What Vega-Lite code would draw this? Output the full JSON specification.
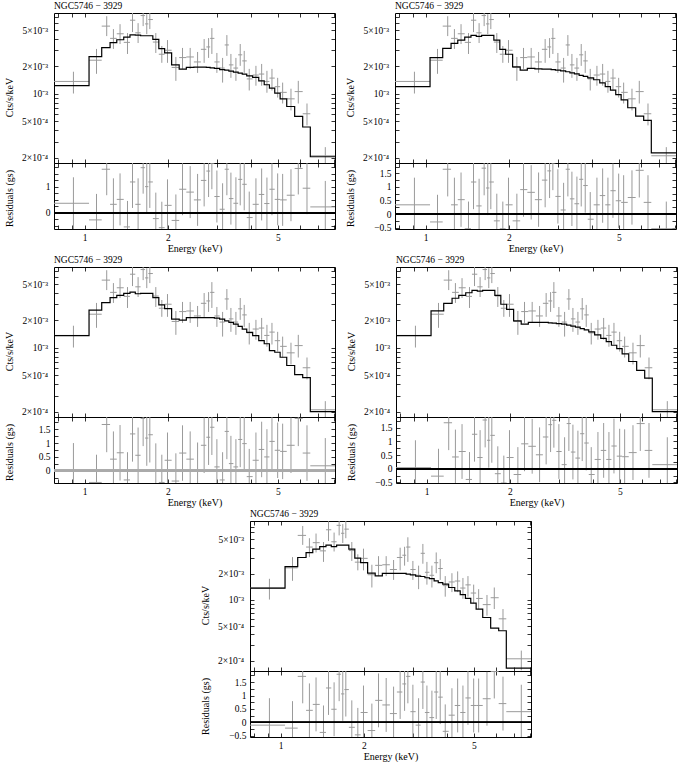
{
"$schema": "https://vega.github.io/schema/vega-lite/v6.json",
"padding": {"left": 4, "top": 0, "right": 4, "bottom": 0},
"background": "white",
"config": {
  "font": "Liberation Serif",
  "view": {"stroke": "black", "strokeWidth": 1},
  "axis": {"domain": false, "grid": false, "tickColor": "black", "tickSize": -4, "tickWidth": 0.8, "labelFont": "Liberation Serif", "labelFontSize": 9.5, "labelColor": "black", "titleFont": "Liberation Serif", "titleFontSize": 10, "titleFontWeight": "normal", "titleColor": "black", "labelPadding": 8},
  "title": {"font": "Liberation Serif", "fontSize": 9.5, "fontWeight": "normal", "anchor": "start", "frame": "group", "offset": 2, "color": "black"}
},
"datasets": {"bins": [
{"i":1,"lo":0.75,"hi":1.0365,"e":0.91,"y":1.37e-3,"ylo":1.01e-3,"yhi":1.75e-3,"m1":1.23e-3,"m2":1.20e-3,"m3":1.36e-3,"m4":1.36e-3,"m5":1.37e-3,"r1":0.36,"r2":0.34,"r3":0.0,"r4":0.04,"r5":-0.1,"rl1":-0.64,"rl2":-0.66,"rl3":-1,"rl4":-0.96,"rl5":-1.1,"rh1":1.36,"rh2":1.34,"rh3":1,"rh4":1.04,"rh5":0.9},
{"i":2,"lo":1.0365,"hi":1.152,"e":1.103,"y":2.34e-3,"ylo":1.66e-3,"yhi":3.11e-3,"m1":2.56e-3,"m2":2.50e-3,"m3":2.59e-3,"m4":2.54e-3,"m5":2.42e-3,"r1":-0.28,"r2":-0.29,"r3":-0.42,"r4":-0.27,"r5":-0.21,"rl1":-1.28,"rl2":-1.29,"rl3":-1.42,"rl4":-1.27,"rl5":-1.21,"rh1":0.72,"rh2":0.71,"rh3":0.58,"rh4":0.73,"rh5":0.79},
{"i":3,"lo":1.152,"hi":1.235,"e":1.201,"y":5.53e-3,"ylo":4.30e-3,"yhi":7.10e-3,"m1":3.21e-3,"m2":3.16e-3,"m3":3.13e-3,"m4":3.08e-3,"m5":3.08e-3,"r1":1.67,"r2":1.65,"r3":1.67,"r4":1.68,"r5":1.71,"rl1":0.67,"rl2":0.65,"rl3":0.67,"rl4":0.68,"rl5":0.71,"rh1":2.67,"rh2":2.65,"rh3":2.67,"rh4":2.68,"rh5":2.71},
{"i":4,"lo":1.235,"hi":1.306,"e":1.27,"y":4.06e-3,"ylo":3.11e-3,"yhi":5.13e-3,"m1":3.64e-3,"m2":3.58e-3,"m3":3.55e-3,"m4":3.50e-3,"m5":3.51e-3,"r1":0.32,"r2":0.34,"r3":0.42,"r4":0.43,"r5":0.45,"rl1":-0.68,"rl2":-0.66,"rl3":-0.58,"rl4":-0.57,"rl5":-0.55,"rh1":1.32,"rh2":1.34,"rh3":1.42,"rh4":1.43,"rh5":1.45},
{"i":5,"lo":1.306,"hi":1.384,"e":1.342,"y":4.56e-3,"ylo":3.52e-3,"yhi":5.81e-3,"m1":3.92e-3,"m2":3.89e-3,"m3":3.77e-3,"m4":3.77e-3,"m5":3.84e-3,"r1":0.51,"r2":0.53,"r3":0.65,"r4":0.63,"r5":0.67,"rl1":-0.49,"rl2":-0.47,"rl3":-0.35,"rl4":-0.37,"rl5":-0.33,"rh1":1.51,"rh2":1.53,"rh3":1.65,"rh4":1.63,"rh5":1.67},
{"i":6,"lo":1.384,"hi":1.458,"e":1.428,"y":3.67e-3,"ylo":2.74e-3,"yhi":4.64e-3,"m1":4.20e-3,"m2":4.20e-3,"m3":3.96e-3,"m4":4.02e-3,"m5":4.11e-3,"r1":-0.55,"r2":-0.54,"r3":-0.33,"r4":-0.39,"r5":-0.37,"rl1":-1.55,"rl2":-1.54,"rl3":-1.33,"rl4":-1.39,"rl5":-1.37,"rh1":0.45,"rh2":0.46,"rh3":0.67,"rh4":0.61,"rh5":0.63},
{"i":7,"lo":1.458,"hi":1.524,"e":1.489,"y":6.42e-3,"ylo":4.76e-3,"yhi":8.04e-3,"m1":4.44e-3,"m2":4.38e-3,"m3":4.09e-3,"m4":4.27e-3,"m5":4.27e-3,"r1":1.18,"r2":1.18,"r3":1.33,"r4":1.26,"r5":1.28,"rl1":0.18,"rl2":0.18,"rl3":0.33,"rl4":0.26,"rl5":0.28,"rh1":2.18,"rh2":2.18,"rh3":2.33,"rh4":2.26,"rh5":2.28},
{"i":8,"lo":1.524,"hi":1.593,"e":1.56,"y":4.67e-3,"ylo":3.61e-3,"yhi":5.96e-3,"m1":4.41e-3,"m2":4.27e-3,"m3":3.92e-3,"m4":4.20e-3,"m5":4.11e-3,"r1":0.32,"r2":0.30,"r3":0.56,"r4":0.41,"r5":0.49,"rl1":-0.68,"rl2":-0.70,"rl3":-0.44,"rl4":-0.59,"rl5":-0.51,"rh1":1.32,"rh2":1.30,"rh3":1.56,"rh4":1.41,"rh5":1.49},
{"i":9,"lo":1.593,"hi":1.653,"e":1.627,"y":7.22e-3,"ylo":5.53e-3,"yhi":9.12e-3,"m1":4.34e-3,"m2":4.38e-3,"m3":3.96e-3,"m4":4.27e-3,"m5":4.27e-3,"r1":1.73,"r2":1.69,"r3":1.89,"r4":1.78,"r5":1.79,"rl1":0.73,"rl2":0.69,"rl3":0.89,"rl4":0.78,"rl5":0.79,"rh1":2.73,"rh2":2.69,"rh3":2.89,"rh4":2.78,"rh5":2.79},
{"i":10,"lo":1.653,"hi":1.699,"e":1.677,"y":5.85e-3,"ylo":4.52e-3,"yhi":7.46e-3,"m1":4.34e-3,"m2":4.38e-3,"m3":3.96e-3,"m4":4.27e-3,"m5":4.27e-3,"r1":1.0,"r2":0.96,"r3":1.18,"r4":1.04,"r5":1.06,"rl1":0,"rl2":-0.04,"rl3":0.18,"rl4":0.04,"rl5":0.06,"rh1":2,"rh2":1.96,"rh3":2.18,"rh4":2.04,"rh5":2.06},
{"i":11,"lo":1.699,"hi":1.764,"e":1.72,"y":6.53e-3,"ylo":5.13e-3,"yhi":8.24e-3,"m1":4.34e-3,"m2":4.38e-3,"m3":3.96e-3,"m4":4.27e-3,"m5":4.27e-3,"r1":1.18,"r2":1.18,"r3":1.30,"r4":1.22,"r5":1.22,"rl1":0.18,"rl2":0.18,"rl3":0.30,"rl4":0.22,"rl5":0.22,"rh1":2.18,"rh2":2.18,"rh3":2.30,"rh4":2.22,"rh5":2.22},
{"i":12,"lo":1.764,"hi":1.854,"e":1.808,"y":3.70e-3,"ylo":2.81e-3,"yhi":4.64e-3,"m1":3.96e-3,"m2":3.89e-3,"m3":3.55e-3,"m4":3.77e-3,"m5":3.84e-3,"r1":-0.23,"r2":-0.25,"r3":-0.01,"r4":-0.18,"r5":-0.18,"rl1":-1.23,"rl2":-1.25,"rl3":-1.01,"rl4":-1.18,"rl5":-1.18,"rh1":0.77,"rh2":0.75,"rh3":0.99,"rh4":0.82,"rh5":0.82},
{"i":13,"lo":1.854,"hi":1.946,"e":1.901,"y":2.72e-3,"ylo":2.19e-3,"yhi":3.35e-3,"m1":3.13e-3,"m2":3.08e-3,"m3":2.96e-3,"m4":3.01e-3,"m5":3.03e-3,"r1":-0.58,"r2":-0.54,"r3":-0.42,"r4":-0.52,"r5":-0.46,"rl1":-1.58,"rl2":-1.54,"rl3":-1.42,"rl4":-1.52,"rl5":-1.46,"rh1":0.42,"rh2":0.46,"rh3":0.58,"rh4":0.48,"rh5":0.54},
{"i":14,"lo":1.946,"hi":2.063,"e":1.993,"y":3.01e-3,"ylo":2.19e-3,"yhi":3.89e-3,"m1":2.81e-3,"m2":2.72e-3,"m3":2.69e-3,"m4":2.65e-3,"m5":2.69e-3,"r1":0.28,"r2":0.34,"r3":0.38,"r4":0.41,"r5":0.37,"rl1":-0.72,"rl2":-0.66,"rl3":-0.62,"rl4":-0.59,"rl5":-0.63,"rh1":1.28,"rh2":1.34,"rh3":1.38,"rh4":1.41,"rh5":1.37},
{"i":15,"lo":2.063,"hi":2.197,"e":2.137,"y":1.95e-3,"ylo":1.39e-3,"yhi":2.54e-3,"m1":2.08e-3,"m2":1.98e-3,"m3":2.07e-3,"m4":1.98e-3,"m5":2.03e-3,"r1":-0.30,"r2":-0.25,"r3":-0.37,"r4":-0.21,"r5":-0.30,"rl1":-1.30,"rl2":-1.25,"rl3":-1.37,"rl4":-1.21,"rl5":-1.30,"rh1":0.70,"rh2":0.75,"rh3":0.63,"rh4":0.79,"rh5":0.70},
{"i":16,"lo":2.197,"hi":2.332,"e":2.259,"y":2.50e-3,"ylo":1.88e-3,"yhi":3.19e-3,"m1":1.87e-3,"m2":1.82e-3,"m3":2.02e-3,"m4":1.82e-3,"m5":1.89e-3,"r1":0.90,"r2":0.90,"r3":0.64,"r4":0.91,"r5":0.82,"rl1":-0.10,"rl2":-0.10,"rl3":-0.36,"rl4":-0.09,"rl5":-0.18,"rh1":1.90,"rh2":1.90,"rh3":1.64,"rh4":1.91,"rh5":1.82},
{"i":17,"lo":2.332,"hi":2.483,"e":2.408,"y":2.54e-3,"ylo":1.88e-3,"yhi":3.19e-3,"m1":1.95e-3,"m2":1.90e-3,"m3":2.15e-3,"m4":1.90e-3,"m5":2.02e-3,"r1":0.79,"r2":0.80,"r3":0.42,"r4":0.82,"r5":0.65,"rl1":-0.21,"rl2":-0.20,"rl3":-0.58,"rl4":-0.18,"rl5":-0.35,"rh1":1.79,"rh2":1.80,"rh3":1.42,"rh4":1.82,"rh5":1.65},
{"i":18,"lo":2.483,"hi":2.633,"e":2.561,"y":2.24e-3,"ylo":1.70e-3,"yhi":2.88e-3,"m1":1.97e-3,"m2":1.88e-3,"m3":2.15e-3,"m4":1.90e-3,"m5":2.02e-3,"r1":0.49,"r2":0.53,"r3":0.02,"r4":0.51,"r5":0.33,"rl1":-0.51,"rl2":-0.47,"rl3":-0.98,"rl4":-0.49,"rl5":-0.67,"rh1":1.49,"rh2":1.53,"rh3":1.02,"rh4":1.51,"rh5":1.33},
{"i":19,"lo":2.633,"hi":2.755,"e":2.705,"y":3.08e-3,"ylo":2.19e-3,"yhi":3.99e-3,"m1":1.97e-3,"m2":1.87e-3,"m3":2.15e-3,"m4":1.90e-3,"m5":2.02e-3,"r1":1.24,"r2":1.25,"r3":0.92,"r4":1.16,"r5":1.13,"rl1":0.24,"rl2":0.25,"rl3":-0.08,"rl4":0.16,"rl5":0.13,"rh1":2.24,"rh2":2.25,"rh3":1.92,"rh4":2.16,"rh5":2.13},
{"i":20,"lo":2.755,"hi":2.844,"e":2.807,"y":3.27e-3,"ylo":2.48e-3,"yhi":4.09e-3,"m1":1.95e-3,"m2":1.87e-3,"m3":2.15e-3,"m4":1.88e-3,"m5":2.02e-3,"r1":1.60,"r2":1.59,"r3":1.21,"r4":1.61,"r5":1.43,"rl1":0.60,"rl2":0.59,"rl3":0.21,"rl4":0.61,"rl5":0.43,"rh1":2.60,"rh2":2.59,"rh3":2.21,"rh4":2.61,"rh5":2.43},
{"i":21,"lo":2.844,"hi":2.946,"e":2.885,"y":4.06e-3,"ylo":2.74e-3,"yhi":5.26e-3,"m1":1.93e-3,"m2":1.85e-3,"m3":2.15e-3,"m4":1.87e-3,"m5":1.98e-3,"r1":1.90,"r2":1.88,"r3":1.57,"r4":1.77,"r5":1.71,"rl1":0.90,"rl2":0.88,"rl3":0.57,"rl4":0.77,"rl5":0.71,"rh1":2.90,"rh2":2.88,"rh3":2.57,"rh4":2.77,"rh5":2.71},
{"i":22,"lo":2.946,"hi":3.078,"e":3.008,"y":2.24e-3,"ylo":1.70e-3,"yhi":2.81e-3,"m1":1.90e-3,"m2":1.82e-3,"m3":2.12e-3,"m4":1.85e-3,"m5":1.94e-3,"r1":0.62,"r2":0.65,"r3":0.14,"r4":0.63,"r5":0.40,"rl1":-0.38,"rl2":-0.35,"rl3":-0.86,"rl4":-0.37,"rl5":-0.60,"rh1":1.62,"rh2":1.65,"rh3":1.14,"rh4":1.63,"rh5":1.40},
{"i":23,"lo":3.078,"hi":3.21,"e":3.155,"y":1.92e-3,"ylo":1.33e-3,"yhi":2.48e-3,"m1":1.85e-3,"m2":1.79e-3,"m3":2.07e-3,"m4":1.82e-3,"m5":1.88e-3,"r1":0.13,"r2":0.15,"r3":-0.33,"r4":0.15,"r5":-0.10,"rl1":-0.87,"rl2":-0.85,"rl3":-1.33,"rl4":-0.85,"rl5":-1.10,"rh1":1.13,"rh2":1.15,"rh3":0.67,"rh4":1.15,"rh5":0.90},
{"i":24,"lo":3.21,"hi":3.325,"e":3.269,"y":3.44e-3,"ylo":2.61e-3,"yhi":4.41e-3,"m1":1.82e-3,"m2":1.75e-3,"m3":1.98e-3,"m4":1.78e-3,"m5":1.86e-3,"r1":1.67,"r2":1.65,"r3":1.42,"r4":1.65,"r5":1.50,"rl1":0.67,"rl2":0.65,"rl3":0.42,"rl4":0.65,"rl5":0.50,"rh1":2.67,"rh2":2.65,"rh3":2.42,"rh4":2.65,"rh5":2.50},
{"i":25,"lo":3.325,"hi":3.452,"e":3.381,"y":2.08e-3,"ylo":1.50e-3,"yhi":2.74e-3,"m1":1.78e-3,"m2":1.70e-3,"m3":1.90e-3,"m4":1.73e-3,"m5":1.80e-3,"r1":0.54,"r2":0.56,"r3":0.26,"r4":0.61,"r5":0.37,"rl1":-0.46,"rl2":-0.44,"rl3":-0.74,"rl4":-0.39,"rl5":-0.63,"rh1":1.54,"rh2":1.56,"rh3":1.26,"rh4":1.61,"rh5":1.37},
{"i":26,"lo":3.452,"hi":3.591,"e":3.525,"y":1.92e-3,"ylo":1.39e-3,"yhi":2.48e-3,"m1":1.73e-3,"m2":1.66e-3,"m3":1.82e-3,"m4":1.69e-3,"m5":1.76e-3,"r1":0.36,"r2":0.38,"r3":0.14,"r4":0.39,"r5":0.18,"rl1":-0.64,"rl2":-0.62,"rl3":-0.86,"rl4":-0.61,"rl5":-0.82,"rh1":1.36,"rh2":1.38,"rh3":1.14,"rh4":1.39,"rh5":1.18},
{"i":27,"lo":3.591,"hi":3.716,"e":3.654,"y":2.68e-3,"ylo":2.03e-3,"yhi":3.52e-3,"m1":1.69e-3,"m2":1.60e-3,"m3":1.72e-3,"m4":1.63e-3,"m5":1.66e-3,"r1":1.28,"r2":1.28,"r3":1.13,"r4":1.28,"r5":1.13,"rl1":0.28,"rl2":0.28,"rl3":0.13,"rl4":0.28,"rl5":0.13,"rh1":2.28,"rh2":2.28,"rh3":2.13,"rh4":2.28,"rh5":2.13},
{"i":28,"lo":3.716,"hi":3.858,"e":3.778,"y":2.30e-3,"ylo":1.70e-3,"yhi":2.96e-3,"m1":1.65e-3,"m2":1.56e-3,"m3":1.61e-3,"m4":1.58e-3,"m5":1.58e-3,"r1":1.09,"r2":1.05,"r3":0.98,"r4":0.94,"r5":0.94,"rl1":0.09,"rl2":0.05,"rl3":-0.02,"rl4":-0.06,"rl5":-0.06,"rh1":2.09,"rh2":2.05,"rh3":1.98,"rh4":1.94,"rh5":1.94},
{"i":29,"lo":3.858,"hi":4.053,"e":3.939,"y":1.46e-3,"ylo":1.09e-3,"yhi":1.88e-3,"m1":1.58e-3,"m2":1.50e-3,"m3":1.48e-3,"m4":1.50e-3,"m5":1.52e-3,"r1":-0.19,"r2":-0.19,"r3":-0.21,"r4":-0.21,"r5":-0.33,"rl1":-1.19,"rl2":-1.19,"rl3":-1.21,"rl4":-1.21,"rl5":-1.33,"rh1":0.81,"rh2":0.81,"rh3":0.79,"rh4":0.79,"rh5":0.67},
{"i":30,"lo":4.053,"hi":4.264,"e":4.165,"y":1.61e-3,"ylo":1.23e-3,"yhi":2.03e-3,"m1":1.52e-3,"m2":1.43e-3,"m3":1.36e-3,"m4":1.39e-3,"m5":1.39e-3,"r1":0.32,"r2":0.34,"r3":0.38,"r4":0.34,"r5":0.27,"rl1":-0.68,"rl2":-0.66,"rl3":-0.62,"rl4":-0.66,"rl5":-0.73,"rh1":1.32,"rh2":1.34,"rh3":1.38,"rh4":1.34,"rh5":1.27},
{"i":31,"lo":4.264,"hi":4.463,"e":4.368,"y":1.65e-3,"ylo":1.23e-3,"yhi":2.13e-3,"m1":1.39e-3,"m2":1.32e-3,"m3":1.20e-3,"m4":1.27e-3,"m5":1.27e-3,"r1":0.70,"r2":0.68,"r3":0.77,"r4":0.67,"r5":0.63,"rl1":-0.30,"rl2":-0.32,"rl3":-0.23,"rl4":-0.33,"rl5":-0.37,"rh1":1.70,"rh2":1.68,"rh3":1.77,"rh4":1.67,"rh5":1.63},
{"i":32,"lo":4.463,"hi":4.661,"e":4.565,"y":1.37e-3,"ylo":1.03e-3,"yhi":1.79e-3,"m1":1.26e-3,"m2":1.20e-3,"m3":1.11e-3,"m4":1.17e-3,"m5":1.15e-3,"r1":0.35,"r2":0.34,"r3":0.50,"r4":0.34,"r5":0.37,"rl1":-0.65,"rl2":-0.66,"rl3":-0.50,"rl4":-0.66,"rl5":-0.63,"rh1":1.35,"rh2":1.34,"rh3":1.50,"rh4":1.34,"rh5":1.37},
{"i":33,"lo":4.661,"hi":4.872,"e":4.76,"y":1.49e-3,"ylo":1.09e-3,"yhi":1.88e-3,"m1":1.16e-3,"m2":1.10e-3,"m3":9.35e-4,"m4":1.07e-3,"m5":1.04e-3,"r1":0.90,"r2":0.86,"r3":1.06,"r4":0.83,"r5":0.91,"rl1":-0.10,"rl2":-0.14,"rl3":0.06,"rl4":-0.17,"rl5":-0.09,"rh1":1.90,"rh2":1.86,"rh3":2.06,"rh4":1.83,"rh5":1.91},
{"i":34,"lo":4.872,"hi":5.096,"e":4.992,"y":1.20e-3,"ylo":9.12e-4,"yhi":1.50e-3,"m1":1.02e-3,"m2":9.83e-4,"m3":8.96e-4,"m4":9.83e-4,"m5":9.18e-4,"r1":0.51,"r2":0.49,"r3":0.74,"r4":0.46,"r5":0.63,"rl1":-0.49,"rl2":-0.51,"rl3":-0.26,"rl4":-0.54,"rl5":-0.37,"rh1":1.51,"rh2":1.49,"rh3":1.74,"rh4":1.46,"rh5":1.63},
{"i":35,"lo":5.096,"hi":5.384,"e":5.204,"y":1.04e-3,"ylo":7.85e-4,"yhi":1.33e-3,"m1":8.82e-4,"m2":8.61e-4,"m3":7.90e-4,"m4":8.61e-4,"m5":7.83e-4,"r1":0.49,"r2":0.43,"r3":0.70,"r4":0.44,"r5":0.63,"rl1":-0.51,"rl2":-0.57,"rl3":-0.30,"rl4":-0.56,"rl5":-0.37,"rh1":1.49,"rh2":1.43,"rh3":1.70,"rh4":1.44,"rh5":1.63},
{"i":36,"lo":5.384,"hi":5.752,"e":5.578,"y":8.83e-4,"ylo":6.59e-4,"yhi":1.14e-3,"m1":7.28e-4,"m2":7.05e-4,"m3":6.42e-4,"m4":7.10e-4,"m5":6.28e-4,"r1":0.67,"r2":0.61,"r3":0.92,"r4":0.59,"r5":0.88,"rl1":-0.33,"rl2":-0.39,"rl3":-0.08,"rl4":-0.41,"rl5":-0.12,"rh1":1.67,"rh2":1.61,"rh3":1.92,"rh4":1.59,"rh5":1.88},
{"i":37,"lo":5.752,"hi":6.15,"e":5.928,"y":1.06e-3,"ylo":7.85e-4,"yhi":1.39e-3,"m1":5.67e-4,"m2":5.71e-4,"m3":5.09e-4,"m4":5.67e-4,"m5":4.74e-4,"r1":1.70,"r2":1.61,"r3":1.89,"r4":1.65,"r5":1.89,"rl1":0.70,"rl2":0.61,"rl3":0.89,"rl4":0.65,"rl5":0.89,"rh1":2.70,"rh2":2.61,"rh3":2.89,"rh4":2.65,"rh5":2.89},
{"i":38,"lo":6.15,"hi":6.553,"e":6.374,"y":6.06e-4,"ylo":4.52e-4,"yhi":7.85e-4,"m1":4.34e-4,"m2":5.13e-4,"m3":4.72e-4,"m4":4.67e-4,"m5":4.42e-4,"r1":0.94,"r2":0.43,"r3":0.64,"r4":0.67,"r5":0.70,"rl1":-0.06,"rl2":-0.57,"rl3":-0.36,"rl4":-0.33,"rl5":-0.30,"rh1":1.94,"rh2":1.43,"rh3":1.64,"rh4":1.67,"rh5":1.70},
{"i":39,"lo":6.553,"hi":8.3,"e":7.425,"y":2.10e-4,"ylo":1.55e-4,"yhi":2.61e-4,"m1":2.05e-4,"m2":2.26e-4,"m3":2.0e-4,"m4":2.0e-4,"m5":1.64e-4,"r1":0.22,"r2":-0.54,"r3":0.18,"r4":0.15,"r5":0.40,"rl1":-0.78,"rl2":-1.54,"rl3":-0.82,"rl4":-0.85,"rl5":-0.60,"rh1":1.22,"rh2":0.46,"rh3":1.18,"rh4":1.15,"rh5":1.40}
]},
"spacing": 0,
"vconcat": [
  {"spacing": 9, "hconcat": [
   {"spacing": 0, "bounds": "flush", "vconcat": [
    {"title": {"text": "NGC5746 − 3929"}, "width": 281, "height": 150, "data": {"name": "bins"},
     "layer": [
      {"mark": {"type": "rule", "color": "#9a9a9a", "clip": true},
       "encoding": {
        "x": {"field": "lo", "type": "quantitative", "scale": {"type": "log", "domain": [0.774, 8.05], "nice": false}, "axis": {"orient": "bottom", "values": [0.8,0.9,1,2,3,4,5,6,7,8], "labels": false, "title": null}},
        "x2": {"field": "hi"},
        "y": {"field": "y", "type": "quantitative", "scale": {"type": "log", "domain": [0.000175, 0.0077], "nice": false}, "axis": {"orient": "left", "values": [0.0002,0.0003,0.0004,0.0005,0.0006,0.0007,0.0008,0.0009,0.001,0.002,0.003,0.004,0.005,0.006,0.007], "labelExpr": "datum.value === 0.005 ? '5×10⁻³' : datum.value === 0.002 ? '2×10⁻³' : datum.value === 0.001 ? '10⁻³' : datum.value === 0.0005 ? '5×10⁻⁴' : datum.value === 0.0002 ? '2×10⁻⁴' : ''", "labelPadding": 10.5, "title": "Cts/s/keV", "titleX": -39.5, "titleY": 84, "titleAngle": -90, "titleAlign": "center", "titleBaseline": "bottom"}}
       }},
      {"mark": {"type": "rule", "color": "#9a9a9a", "clip": true},
       "encoding": {
        "x": {"field": "e", "type": "quantitative", "axis": {"orient": "top", "values": [0.8,0.9,1,2,3,4,5,6,7,8], "labels": false, "title": null}},
        "y": {"field": "ylo", "type": "quantitative", "axis": {"orient": "right", "values": [0.0002,0.0003,0.0004,0.0005,0.0006,0.0007,0.0008,0.0009,0.001,0.002,0.003,0.004,0.005,0.006,0.007], "labels": false, "title": null}},
        "y2": {"field": "yhi"}
       }},
      {"transform": [{"fold": ["lo", "hi"], "as": ["k", "xe"]}],
       "mark": {"type": "line", "color": "black", "strokeWidth": 1.2, "clip": true},
       "encoding": {
        "x": {"field": "xe", "type": "quantitative", "axis": null},
        "y": {"field": "m1", "type": "quantitative", "axis": null},
        "order": [{"field": "i", "type": "quantitative"}, {"field": "k", "type": "ordinal", "sort": "descending"}]
       }}
     ],
     "resolve": {"axis": {"x": "independent", "y": "independent"}}},
    {"width": 281, "height": 66, "data": {"name": "bins"},
     "layer": [
      {"mark": {"type": "rule", "color": "#9a9a9a", "clip": true},
       "encoding": {
        "x": {"field": "lo", "type": "quantitative", "scale": {"type": "log", "domain": [0.774, 8.05], "nice": false}, "axis": {"orient": "bottom", "values": [0.8,0.9,1,2,3,4,5,6,7,8], "labelExpr": "datum.value === 1 || datum.value === 2 || datum.value === 5 ? '' + datum.value : ''", "labelPadding": 7.5, "title": "Energy (keV)", "titlePadding": 1}},
        "x2": {"field": "hi"},
        "y": {"field": "r1", "type": "quantitative", "scale": {"domain": [-0.63, 1.91], "nice": false, "zero": false}, "axis": {"orient": "left", "values": [-0.5,-0.25,0,0.25,0.5,0.75,1,1.25,1.5,1.75], "labelExpr": "datum.value === 0 || datum.value === 1 ? '' + datum.value : ''", "labelPadding": 8, "title": "Residuals (gs)", "titleX": -39.5, "titleY": 35, "titleAngle": -90, "titleAlign": "center", "titleBaseline": "bottom"}}
       }},
      {"mark": {"type": "rule", "color": "#9a9a9a", "clip": true},
       "encoding": {
        "x": {"field": "e", "type": "quantitative", "axis": {"orient": "top", "values": [0.8,0.9,1,2,3,4,5,6,7,8], "labels": false, "title": null}},
        "y": {"field": "rl1", "type": "quantitative", "axis": {"orient": "right", "values": [-0.5,-0.25,0,0.25,0.5,0.75,1,1.25,1.5,1.75], "labels": false, "title": null}},
        "y2": {"field": "rh1"}
       }},
      {"mark": {"type": "rule", "color": "black", "strokeWidth": 0.8},
       "encoding": {"y": {"datum": 0, "type": "quantitative", "axis": null}}}
     ],
     "resolve": {"axis": {"x": "independent", "y": "independent"}}}
   ]},
   {"spacing": 0, "bounds": "flush", "vconcat": [
    {"title": {"text": "NGC5746 − 3929"}, "width": 281, "height": 150, "data": {"name": "bins"},
     "layer": [
      {"mark": {"type": "rule", "color": "#9a9a9a", "clip": true},
       "encoding": {
        "x": {"field": "lo", "type": "quantitative", "scale": {"type": "log", "domain": [0.774, 8.05], "nice": false}, "axis": {"orient": "bottom", "values": [0.8,0.9,1,2,3,4,5,6,7,8], "labels": false, "title": null}},
        "x2": {"field": "hi"},
        "y": {"field": "y", "type": "quantitative", "scale": {"type": "log", "domain": [0.000175, 0.0077], "nice": false}, "axis": {"orient": "left", "values": [0.0002,0.0003,0.0004,0.0005,0.0006,0.0007,0.0008,0.0009,0.001,0.002,0.003,0.004,0.005,0.006,0.007], "labelExpr": "datum.value === 0.005 ? '5×10⁻³' : datum.value === 0.002 ? '2×10⁻³' : datum.value === 0.001 ? '10⁻³' : datum.value === 0.0005 ? '5×10⁻⁴' : datum.value === 0.0002 ? '2×10⁻⁴' : ''", "labelPadding": 10.5, "title": "Cts/s/keV", "titleX": -39.5, "titleY": 84, "titleAngle": -90, "titleAlign": "center", "titleBaseline": "bottom"}}
       }},
      {"mark": {"type": "rule", "color": "#9a9a9a", "clip": true},
       "encoding": {
        "x": {"field": "e", "type": "quantitative", "axis": {"orient": "top", "values": [0.8,0.9,1,2,3,4,5,6,7,8], "labels": false, "title": null}},
        "y": {"field": "ylo", "type": "quantitative", "axis": {"orient": "right", "values": [0.0002,0.0003,0.0004,0.0005,0.0006,0.0007,0.0008,0.0009,0.001,0.002,0.003,0.004,0.005,0.006,0.007], "labels": false, "title": null}},
        "y2": {"field": "yhi"}
       }},
      {"transform": [{"fold": ["lo", "hi"], "as": ["k", "xe"]}],
       "mark": {"type": "line", "color": "black", "strokeWidth": 1.2, "clip": true},
       "encoding": {
        "x": {"field": "xe", "type": "quantitative", "axis": null},
        "y": {"field": "m2", "type": "quantitative", "axis": null},
        "order": [{"field": "i", "type": "quantitative"}, {"field": "k", "type": "ordinal", "sort": "descending"}]
       }}
     ],
     "resolve": {"axis": {"x": "independent", "y": "independent"}}},
    {"width": 281, "height": 66, "data": {"name": "bins"},
     "layer": [
      {"mark": {"type": "rule", "color": "#9a9a9a", "clip": true},
       "encoding": {
        "x": {"field": "lo", "type": "quantitative", "scale": {"type": "log", "domain": [0.774, 8.05], "nice": false}, "axis": {"orient": "bottom", "values": [0.8,0.9,1,2,3,4,5,6,7,8], "labelExpr": "datum.value === 1 || datum.value === 2 || datum.value === 5 ? '' + datum.value : ''", "labelPadding": 7.5, "title": "Energy (keV)", "titlePadding": 1}},
        "x2": {"field": "hi"},
        "y": {"field": "r2", "type": "quantitative", "scale": {"domain": [-0.55, 1.88], "nice": false, "zero": false}, "axis": {"orient": "left", "values": [-0.5,-0.25,0,0.25,0.5,0.75,1,1.25,1.5,1.75], "labelExpr": "datum.value === -0.5 ? '−0.5' : (datum.value * 2) % 1 === 0 ? '' + datum.value : ''", "labelPadding": 8, "title": "Residuals (gs)", "titleX": -39.5, "titleY": 35, "titleAngle": -90, "titleAlign": "center", "titleBaseline": "bottom"}}
       }},
      {"mark": {"type": "rule", "color": "#9a9a9a", "clip": true},
       "encoding": {
        "x": {"field": "e", "type": "quantitative", "axis": {"orient": "top", "values": [0.8,0.9,1,2,3,4,5,6,7,8], "labels": false, "title": null}},
        "y": {"field": "rl2", "type": "quantitative", "axis": {"orient": "right", "values": [-0.5,-0.25,0,0.25,0.5,0.75,1,1.25,1.5,1.75], "labels": false, "title": null}},
        "y2": {"field": "rh2"}
       }},
      {"mark": {"type": "rule", "color": "black", "strokeWidth": 0.8},
       "encoding": {"y": {"datum": 0, "type": "quantitative", "axis": null}}}
     ],
     "resolve": {"axis": {"x": "independent", "y": "independent"}}}
   ]}
  ]},
  {"spacing": 9, "hconcat": [
   {"spacing": 0, "bounds": "flush", "vconcat": [
    {"title": {"text": "NGC5746 − 3929"}, "width": 281, "height": 150, "data": {"name": "bins"},
     "layer": [
      {"mark": {"type": "rule", "color": "#9a9a9a", "clip": true},
       "encoding": {
        "x": {"field": "lo", "type": "quantitative", "scale": {"type": "log", "domain": [0.774, 8.05], "nice": false}, "axis": {"orient": "bottom", "values": [0.8,0.9,1,2,3,4,5,6,7,8], "labels": false, "title": null}},
        "x2": {"field": "hi"},
        "y": {"field": "y", "type": "quantitative", "scale": {"type": "log", "domain": [0.000175, 0.0077], "nice": false}, "axis": {"orient": "left", "values": [0.0002,0.0003,0.0004,0.0005,0.0006,0.0007,0.0008,0.0009,0.001,0.002,0.003,0.004,0.005,0.006,0.007], "labelExpr": "datum.value === 0.005 ? '5×10⁻³' : datum.value === 0.002 ? '2×10⁻³' : datum.value === 0.001 ? '10⁻³' : datum.value === 0.0005 ? '5×10⁻⁴' : datum.value === 0.0002 ? '2×10⁻⁴' : ''", "labelPadding": 10.5, "title": "Cts/s/keV", "titleX": -39.5, "titleY": 84, "titleAngle": -90, "titleAlign": "center", "titleBaseline": "bottom"}}
       }},
      {"mark": {"type": "rule", "color": "#9a9a9a", "clip": true},
       "encoding": {
        "x": {"field": "e", "type": "quantitative", "axis": {"orient": "top", "values": [0.8,0.9,1,2,3,4,5,6,7,8], "labels": false, "title": null}},
        "y": {"field": "ylo", "type": "quantitative", "axis": {"orient": "right", "values": [0.0002,0.0003,0.0004,0.0005,0.0006,0.0007,0.0008,0.0009,0.001,0.002,0.003,0.004,0.005,0.006,0.007], "labels": false, "title": null}},
        "y2": {"field": "yhi"}
       }},
      {"transform": [{"fold": ["lo", "hi"], "as": ["k", "xe"]}],
       "mark": {"type": "line", "color": "black", "strokeWidth": 1.2, "clip": true},
       "encoding": {
        "x": {"field": "xe", "type": "quantitative", "axis": null},
        "y": {"field": "m3", "type": "quantitative", "axis": null},
        "order": [{"field": "i", "type": "quantitative"}, {"field": "k", "type": "ordinal", "sort": "descending"}]
       }}
     ],
     "resolve": {"axis": {"x": "independent", "y": "independent"}}},
    {"width": 281, "height": 66, "data": {"name": "bins"},
     "layer": [
      {"mark": {"type": "rule", "color": "#9a9a9a", "clip": true},
       "encoding": {
        "x": {"field": "lo", "type": "quantitative", "scale": {"type": "log", "domain": [0.774, 8.05], "nice": false}, "axis": {"orient": "bottom", "values": [0.8,0.9,1,2,3,4,5,6,7,8], "labelExpr": "datum.value === 1 || datum.value === 2 || datum.value === 5 ? '' + datum.value : ''", "labelPadding": 7.5, "title": "Energy (keV)", "titlePadding": 1}},
        "x2": {"field": "hi"},
        "y": {"field": "r3", "type": "quantitative", "scale": {"domain": [-0.44, 1.94], "nice": false, "zero": false}, "axis": {"orient": "left", "values": [-0.25,0,0.25,0.5,0.75,1,1.25,1.5,1.75], "labelExpr": "(datum.value * 2) % 1 === 0 ? '' + datum.value : ''", "labelPadding": 8, "title": "Residuals (gs)", "titleX": -39.5, "titleY": 35, "titleAngle": -90, "titleAlign": "center", "titleBaseline": "bottom"}}
       }},
      {"mark": {"type": "rule", "color": "#9a9a9a", "clip": true},
       "encoding": {
        "x": {"field": "e", "type": "quantitative", "axis": {"orient": "top", "values": [0.8,0.9,1,2,3,4,5,6,7,8], "labels": false, "title": null}},
        "y": {"field": "rl3", "type": "quantitative", "axis": {"orient": "right", "values": [-0.25,0,0.25,0.5,0.75,1,1.25,1.5,1.75], "labels": false, "title": null}},
        "y2": {"field": "rh3"}
       }},
      {"mark": {"type": "rule", "color": "#aaaaaa", "strokeWidth": 2},
       "encoding": {"y": {"datum": 0, "type": "quantitative", "axis": null}}}
     ],
     "resolve": {"axis": {"x": "independent", "y": "independent"}}}
   ]},
   {"spacing": 0, "bounds": "flush", "vconcat": [
    {"title": {"text": "NGC5746 − 3929"}, "width": 281, "height": 150, "data": {"name": "bins"},
     "layer": [
      {"mark": {"type": "rule", "color": "#9a9a9a", "clip": true},
       "encoding": {
        "x": {"field": "lo", "type": "quantitative", "scale": {"type": "log", "domain": [0.774, 8.05], "nice": false}, "axis": {"orient": "bottom", "values": [0.8,0.9,1,2,3,4,5,6,7,8], "labels": false, "title": null}},
        "x2": {"field": "hi"},
        "y": {"field": "y", "type": "quantitative", "scale": {"type": "log", "domain": [0.000175, 0.0077], "nice": false}, "axis": {"orient": "left", "values": [0.0002,0.0003,0.0004,0.0005,0.0006,0.0007,0.0008,0.0009,0.001,0.002,0.003,0.004,0.005,0.006,0.007], "labelExpr": "datum.value === 0.005 ? '5×10⁻³' : datum.value === 0.002 ? '2×10⁻³' : datum.value === 0.001 ? '10⁻³' : datum.value === 0.0005 ? '5×10⁻⁴' : datum.value === 0.0002 ? '2×10⁻⁴' : ''", "labelPadding": 10.5, "title": "Cts/s/keV", "titleX": -39.5, "titleY": 84, "titleAngle": -90, "titleAlign": "center", "titleBaseline": "bottom"}}
       }},
      {"mark": {"type": "rule", "color": "#9a9a9a", "clip": true},
       "encoding": {
        "x": {"field": "e", "type": "quantitative", "axis": {"orient": "top", "values": [0.8,0.9,1,2,3,4,5,6,7,8], "labels": false, "title": null}},
        "y": {"field": "ylo", "type": "quantitative", "axis": {"orient": "right", "values": [0.0002,0.0003,0.0004,0.0005,0.0006,0.0007,0.0008,0.0009,0.001,0.002,0.003,0.004,0.005,0.006,0.007], "labels": false, "title": null}},
        "y2": {"field": "yhi"}
       }},
      {"transform": [{"fold": ["lo", "hi"], "as": ["k", "xe"]}],
       "mark": {"type": "line", "color": "black", "strokeWidth": 1.2, "clip": true},
       "encoding": {
        "x": {"field": "xe", "type": "quantitative", "axis": null},
        "y": {"field": "m4", "type": "quantitative", "axis": null},
        "order": [{"field": "i", "type": "quantitative"}, {"field": "k", "type": "ordinal", "sort": "descending"}]
       }}
     ],
     "resolve": {"axis": {"x": "independent", "y": "independent"}}},
    {"width": 281, "height": 66, "data": {"name": "bins"},
     "layer": [
      {"mark": {"type": "rule", "color": "#9a9a9a", "clip": true},
       "encoding": {
        "x": {"field": "lo", "type": "quantitative", "scale": {"type": "log", "domain": [0.774, 8.05], "nice": false}, "axis": {"orient": "bottom", "values": [0.8,0.9,1,2,3,4,5,6,7,8], "labelExpr": "datum.value === 1 || datum.value === 2 || datum.value === 5 ? '' + datum.value : ''", "labelPadding": 7.5, "title": "Energy (keV)", "titlePadding": 1}},
        "x2": {"field": "hi"},
        "y": {"field": "r4", "type": "quantitative", "scale": {"domain": [-0.52, 1.89], "nice": false, "zero": false}, "axis": {"orient": "left", "values": [-0.5,-0.25,0,0.25,0.5,0.75,1,1.25,1.5,1.75], "labelExpr": "datum.value === -0.5 ? '−0.5' : (datum.value * 2) % 1 === 0 ? '' + datum.value : ''", "labelPadding": 8, "title": "Residuals (gs)", "titleX": -39.5, "titleY": 35, "titleAngle": -90, "titleAlign": "center", "titleBaseline": "bottom"}}
       }},
      {"mark": {"type": "rule", "color": "#9a9a9a", "clip": true},
       "encoding": {
        "x": {"field": "e", "type": "quantitative", "axis": {"orient": "top", "values": [0.8,0.9,1,2,3,4,5,6,7,8], "labels": false, "title": null}},
        "y": {"field": "rl4", "type": "quantitative", "axis": {"orient": "right", "values": [-0.5,-0.25,0,0.25,0.5,0.75,1,1.25,1.5,1.75], "labels": false, "title": null}},
        "y2": {"field": "rh4"}
       }},
      {"mark": {"type": "rule", "color": "black", "strokeWidth": 0.8},
       "encoding": {"y": {"datum": 0, "type": "quantitative", "axis": null}}}
     ],
     "resolve": {"axis": {"x": "independent", "y": "independent"}}}
   ]}
  ]},
 {"spacing": 10, "hconcat": [
  {"width": 135.5, "height": 10, "data": {"values": [{}]}, "mark": {"type": "point", "opacity": 0}, "view": {"stroke": null}},
  {"spacing": 0, "bounds": "flush", "vconcat": [
    {"title": {"text": "NGC5746 − 3929"}, "width": 281, "height": 150, "data": {"name": "bins"},
     "layer": [
      {"mark": {"type": "rule", "color": "#9a9a9a", "clip": true},
       "encoding": {
        "x": {"field": "lo", "type": "quantitative", "scale": {"type": "log", "domain": [0.774, 8.05], "nice": false}, "axis": {"orient": "bottom", "values": [0.8,0.9,1,2,3,4,5,6,7,8], "labels": false, "title": null}},
        "x2": {"field": "hi"},
        "y": {"field": "y", "type": "quantitative", "scale": {"type": "log", "domain": [0.000152, 0.0081], "nice": false}, "axis": {"orient": "left", "values": [0.0002,0.0003,0.0004,0.0005,0.0006,0.0007,0.0008,0.0009,0.001,0.002,0.003,0.004,0.005,0.006,0.007,0.008], "labelExpr": "datum.value === 0.005 ? '5×10⁻³' : datum.value === 0.002 ? '2×10⁻³' : datum.value === 0.001 ? '10⁻³' : datum.value === 0.0005 ? '5×10⁻⁴' : datum.value === 0.0002 ? '2×10⁻⁴' : ''", "labelPadding": 10.5, "title": "Cts/s/keV", "titleX": -39.5, "titleY": 84, "titleAngle": -90, "titleAlign": "center", "titleBaseline": "bottom"}}
       }},
      {"mark": {"type": "rule", "color": "#9a9a9a", "clip": true},
       "encoding": {
        "x": {"field": "e", "type": "quantitative", "axis": {"orient": "top", "values": [0.8,0.9,1,2,3,4,5,6,7,8], "labels": false, "title": null}},
        "y": {"field": "ylo", "type": "quantitative", "axis": {"orient": "right", "values": [0.0002,0.0003,0.0004,0.0005,0.0006,0.0007,0.0008,0.0009,0.001,0.002,0.003,0.004,0.005,0.006,0.007,0.008], "labels": false, "title": null}},
        "y2": {"field": "yhi"}
       }},
      {"transform": [{"fold": ["lo", "hi"], "as": ["k", "xe"]}],
       "mark": {"type": "line", "color": "black", "strokeWidth": 1.2, "clip": true},
       "encoding": {
        "x": {"field": "xe", "type": "quantitative", "axis": null},
        "y": {"field": "m5", "type": "quantitative", "axis": null},
        "order": [{"field": "i", "type": "quantitative"}, {"field": "k", "type": "ordinal", "sort": "descending"}]
       }}
     ],
     "resolve": {"axis": {"x": "independent", "y": "independent"}}},
    {"width": 281, "height": 66, "data": {"name": "bins"},
     "layer": [
      {"mark": {"type": "rule", "color": "#9a9a9a", "clip": true},
       "encoding": {
        "x": {"field": "lo", "type": "quantitative", "scale": {"type": "log", "domain": [0.774, 8.05], "nice": false}, "axis": {"orient": "bottom", "values": [0.8,0.9,1,2,3,4,5,6,7,8], "labelExpr": "datum.value === 1 || datum.value === 2 || datum.value === 5 ? '' + datum.value : ''", "labelPadding": 7.5, "title": "Energy (keV)", "titlePadding": 1}},
        "x2": {"field": "hi"},
        "y": {"field": "r5", "type": "quantitative", "scale": {"domain": [-0.54, 1.91], "nice": false, "zero": false}, "axis": {"orient": "left", "values": [-0.5,-0.25,0,0.25,0.5,0.75,1,1.25,1.5,1.75], "labelExpr": "datum.value === -0.5 ? '−0.5' : (datum.value * 2) % 1 === 0 ? '' + datum.value : ''", "labelPadding": 8, "title": "Residuals (gs)", "titleX": -39.5, "titleY": 35, "titleAngle": -90, "titleAlign": "center", "titleBaseline": "bottom"}}
       }},
      {"mark": {"type": "rule", "color": "#9a9a9a", "clip": true},
       "encoding": {
        "x": {"field": "e", "type": "quantitative", "axis": {"orient": "top", "values": [0.8,0.9,1,2,3,4,5,6,7,8], "labels": false, "title": null}},
        "y": {"field": "rl5", "type": "quantitative", "axis": {"orient": "right", "values": [-0.5,-0.25,0,0.25,0.5,0.75,1,1.25,1.5,1.75], "labels": false, "title": null}},
        "y2": {"field": "rh5"}
       }},
      {"mark": {"type": "rule", "color": "black", "strokeWidth": 0.8},
       "encoding": {"y": {"datum": 0, "type": "quantitative", "axis": null}}}
     ],
     "resolve": {"axis": {"x": "independent", "y": "independent"}}}
  ]}
 ]}
]
}
